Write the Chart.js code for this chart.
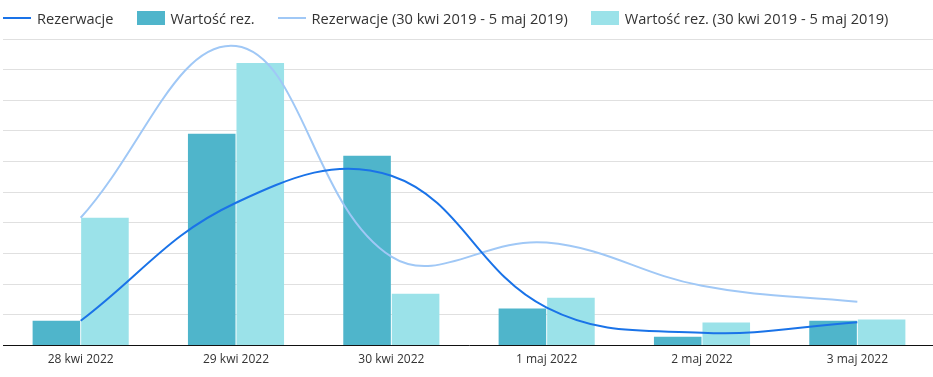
<!DOCTYPE html>
<html>
<head>
<meta charset="utf-8">
<script src="https://cdn.jsdelivr.net/npm/chart.js@4/dist/chart.umd.min.js"></script>
<style>
  html, body { margin: 0; padding: 0; background: #fff; }
  #wrap { position: relative; width: 933px; height: 377px; overflow: hidden; }
  #legend { position: absolute; left: 3px; top: 0; height: 36px; display: flex; align-items: center; font-family: "Open Sans", sans-serif; font-size: 14.6px; color: #333; white-space: nowrap; }
  .item { display: flex; align-items: center; margin-right: 23px; }
  .sw { width: 28px; margin-right: 6px; }
  .sw.line { height: 2px; }
  .sw.box { height: 14px; }
</style>
</head>
<body>
<div id="wrap">
  <canvas id="c" width="936" height="377"></canvas>
  <div id="legend"></div>
</div>
<script>
const categories = ['28 kwi 2022', '29 kwi 2022', '30 kwi 2022', '1 maj 2022', '2 maj 2022', '3 maj 2022'];
const rezerwacje = [0.81, 4.66, 5.54, 1.24, 0.42, 0.76];
const wartosc = [0.81, 6.91, 6.19, 1.21, 0.29, 0.81];
const rezerwacje2019 = [4.17, 9.77, 2.90, 3.36, 1.95, 1.43];
const wartosc2019 = [4.17, 9.22, 1.69, 1.56, 0.75, 0.85];

const datasets = [
  { type: 'line', label: 'Rezerwacje', data: rezerwacje, borderColor: '#1a73e8', backgroundColor: '#1a73e8', borderWidth: 2, pointRadius: 0, tension: 0.4, fill: false, order: 0 },
  { type: 'bar', label: 'Wartość rez.', data: wartosc, backgroundColor: '#4fb5cb', order: 2 },
  { type: 'line', label: 'Rezerwacje (30 kwi 2019 - 5 maj 2019)', data: rezerwacje2019, borderColor: '#a0c8f6', backgroundColor: '#a0c8f6', borderWidth: 2, pointRadius: 0, tension: 0.4, fill: false, order: 1 },
  { type: 'bar', label: 'Wartość rez. (30 kwi 2019 - 5 maj 2019)', data: wartosc2019, backgroundColor: '#9be2e9', order: 2 }
];

const chart = new Chart(document.getElementById('c'), {
  data: { labels: categories, datasets: datasets },
  options: {
    responsive: false,
    animation: false,
    layout: { padding: { top: 39, left: 3, right: 1, bottom: 3 } },
    datasets: { bar: { categoryPercentage: 0.625, barPercentage: 0.98 } },
    plugins: { legend: { display: false }, tooltip: { enabled: false } },
    scales: {
      x: {
        grid: { display: false, drawTicks: false },
        border: { display: true, color: '#111', width: 1 },
        ticks: { color: '#333', padding: 7, font: { family: 'Open Sans', size: 12 } }
      },
      y: {
        min: 0, max: 10,
        grid: { color: '#e0e0e0', lineWidth: 1, drawTicks: false },
        border: { display: false },
        ticks: { display: false, stepSize: 1 }
      }
    }
  }
});

const legend = document.getElementById('legend');
chart.data.datasets.forEach(ds => {
  const item = document.createElement('div');
  item.className = 'item';
  const sw = document.createElement('div');
  sw.className = 'sw ' + (ds.type === 'line' ? 'line' : 'box');
  sw.style.background = ds.type === 'line' ? ds.borderColor : ds.backgroundColor;
  const t = document.createElement('span');
  t.textContent = ds.label;
  item.appendChild(sw);
  item.appendChild(t);
  legend.appendChild(item);
});
</script>
</body>
</html>
